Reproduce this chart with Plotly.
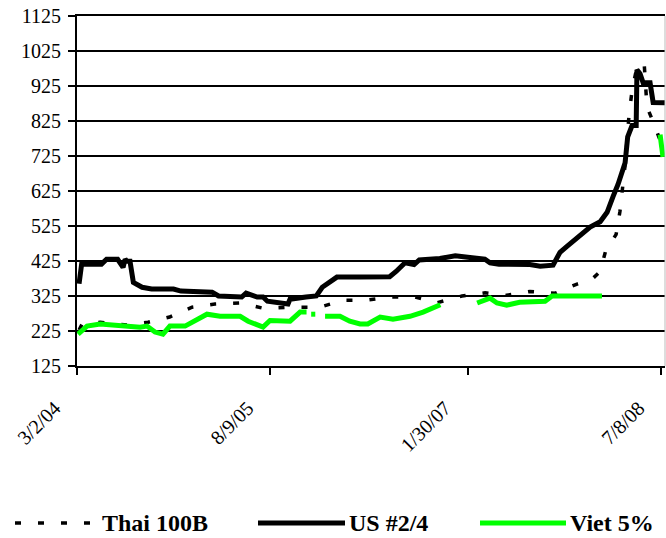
import plotly.graph_objects as go

# x = weeks since 3/2/04 (weekly category axis)
tick_weeks = [0, 75, 152, 227]
tick_labels = ["3/2/04", "8/9/05", "1/30/07", "7/8/08"]

thai_x = [0.8, 2, 9, 19.4, 27.6, 36, 44.7, 53.6, 63.4, 72.3, 83, 94.4, 103.4, 112,
          121.6, 131.4, 140, 149.6, 158.6, 167, 176, 185.8, 194.3, 200, 203.3, 205.4,
          209.5, 211, 213, 214.5, 215.7, 217.6, 220.4, 221.5, 224.2, 226.6]
thai_y = [228, 245, 250, 242, 250, 265, 293, 302, 305, 290, 293, 293, 313, 313,
          322, 322, 306, 325, 334, 327, 338, 333, 359, 372, 395, 453,
          501, 567, 700, 840, 912, 980, 990, 865, 817, 770]

us_x = [0.8, 1.8, 9.5, 11.5, 15.8, 17.9, 18.7, 19.4, 20.6, 21.9, 25.3, 29, 33, 37.5, 40.4,
        45, 52.5, 55, 60, 64, 65.7, 70, 72.3, 74, 82, 82.8, 89, 93, 95.3, 98.1, 101,
        110, 114.5, 121.5, 124, 127.5, 131, 133, 141, 147, 152.7, 158.5, 160.5, 164,
        176, 180, 185, 187.7, 190.4, 193.5, 196.7, 199.4, 203.3, 206, 208.3, 210.3,
        213, 214, 215.7, 217.3, 217.6, 218.8, 220, 222.7, 223.9, 228.5]
us_y = [360, 416, 416, 430, 430, 407, 430, 424, 424, 364, 350, 345, 345, 345, 339,
        339, 336, 325, 322, 322, 333, 322, 322, 310, 302, 316, 322, 325, 350, 364, 379,
        379, 380, 380, 395, 420, 415, 428, 432, 440, 435, 430, 420, 416,
        415, 410, 413, 450, 467, 485, 505, 522, 537, 564, 609, 645,
        706, 780, 812, 812, 971, 960, 934, 934, 878, 877]

viet_x = [0.4, 2, 3.9, 9, 14, 19.4, 24.5, 27.2, 30.3, 33.4, 36.1, 42, 45.9, 50.5, 55.6,
          63.4, 66.5, 72.3, 75, 82.8, 86.7, 89.2, None, 91, 92.6, None, 96.4, 102.2, 106,
          110, 113, 117.8, 122.8, 129.4, 134.5, 140, 141.2, None, 155.5, 160.5, 163.2,
          167, 172, 178.8, 181.9, 184.6, 204, None, 226.6, 227.7]
viet_y = [216, 228, 239, 245, 242, 236, 236, 239, 222, 216, 239, 239, 253, 273, 267,
          267, 253, 236, 255, 253, 279, 279, None, 273, 273, None, 267, 267, 253,
          245, 245, 265, 259, 267, 279, 296, 300, None, 305, 319, 305,
          299, 307, 310, 310, 325, 325, None, 786, 722]

names = ["Thai 100B", "US #2/4", "Viet 5%"]
colors = ["#000000", "#000000", "#00FF00"]

FONT = "'Times New Roman', 'Liberation Serif', Tinos, 'DejaVu Serif', 'Noto Serif', serif"

fig = go.Figure()
fig.add_trace(go.Scatter(x=thai_x, y=thai_y, mode="lines", name=names[0],
                         line=dict(color=colors[0], width=3.5, dash="6px,17px"),
                         showlegend=False))
fig.add_trace(go.Scatter(x=us_x, y=us_y, mode="lines", name=names[1],
                         line=dict(color=colors[1], width=5), showlegend=False))
fig.add_trace(go.Scatter(x=viet_x, y=viet_y, mode="lines", name=names[2],
                         line=dict(color=colors[2], width=5), showlegend=False,
                         connectgaps=False))

W, H = 666, 538
L, R, T, B = 77, 665, 16, 366


def px(x):
    return (x - L) / (R - L)


def py(y):
    return (B - y) / (B - T)


shapes = []
annotations = []

# x tick labels, slanted, placed just below-left of each tick
for tv, tt in zip(tick_weeks, tick_labels):
    annotations.append(dict(xref="x", yref="paper", x=tv, y=0, text=tt, showarrow=False,
                            textangle=-45, xanchor="right", yanchor="top",
                            xshift=-10, yshift=-28,
                            font=dict(family=FONT, size=20, color="#000000")))

# manual legend (line samples + bold labels)
leg_y = py(523)
legend_items = [(15, 96, 100, "6px,17px", 3.5), (258, 345, 347, "solid", 5), (480, 566, 568, "solid", 5)]
for (x0, x1, xt, dash, w), nm, c in zip(legend_items, names, colors):
    shapes.append(dict(type="line", xref="paper", yref="paper", x0=px(x0), x1=px(x1),
                       y0=leg_y, y1=leg_y, line=dict(color=c, width=w, dash=dash)))
    annotations.append(dict(xref="paper", yref="paper", x=px(xt), y=leg_y, text="<b>" + nm + "</b>",
                            showarrow=False, xanchor="left", yanchor="middle",
                            font=dict(family=FONT, size=24, color="#000000")))
# light right border of plot area
shapes.append(dict(type="line", xref="paper", yref="paper", x0=1, x1=1, y0=0, y1=1,
                   line=dict(color="#BBBBBB", width=1)))

fig.update_layout(
    width=W, height=H,
    margin=dict(l=L, r=W - R, t=T, b=H - B),
    paper_bgcolor="white", plot_bgcolor="white",
    font=dict(family=FONT, size=20, color="#000000"),
    shapes=shapes, annotations=annotations,
    xaxis=dict(range=[0, 228.5], tickmode="array", tickvals=tick_weeks, ticktext=tick_labels,
               showticklabels=False, ticks="outside", ticklen=7, tickwidth=1.5,
               tickcolor="#000000", showgrid=False, zeroline=False, showline=True,
               linecolor="#000000", linewidth=2, mirror=True),
    yaxis=dict(range=[125, 1125], tick0=125, dtick=100, ticks="outside", ticklen=7,
               tickwidth=1.5, tickcolor="#000000", showgrid=True, gridcolor="#000000",
               gridwidth=1.5, zeroline=False, showline=True, linecolor="#000000", linewidth=2,
               ticklabelstandoff=3, tickfont=dict(family=FONT, size=20)),
)

fig.write_html("out.html", config={"displayModeBar": False},
               post_script="document.body.style.margin='0';")
